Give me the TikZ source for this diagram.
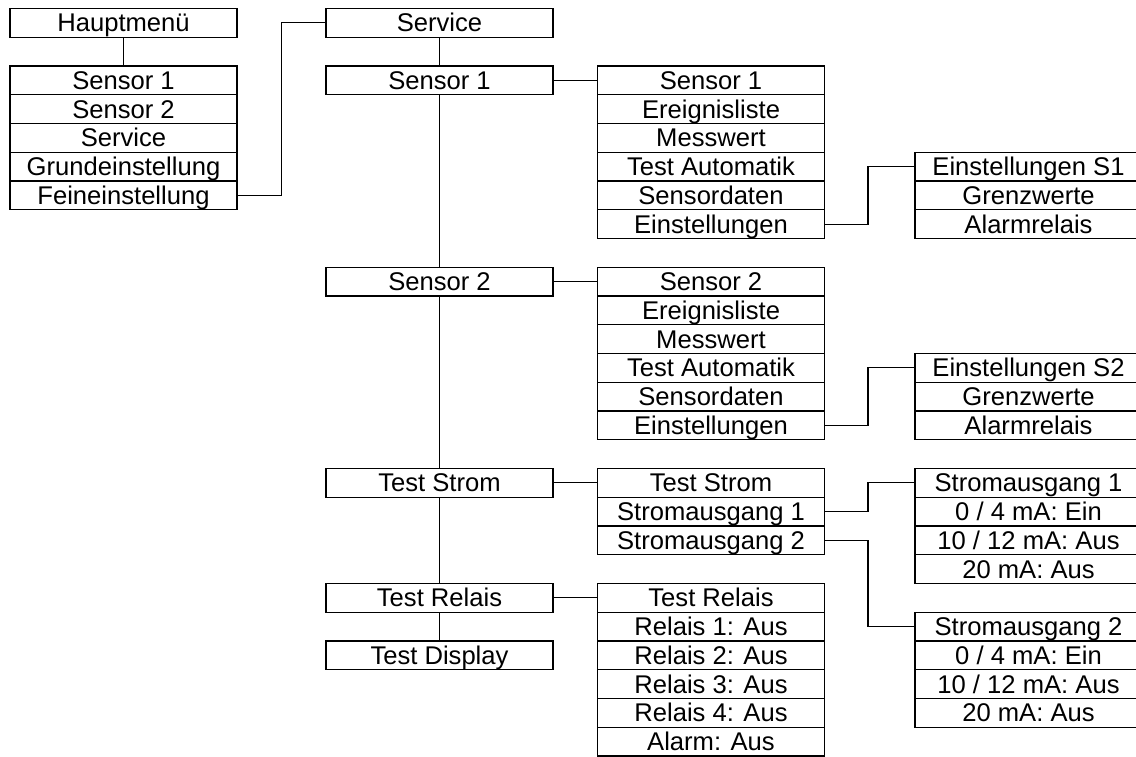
\documentclass[tikz,border=0pt]{standalone}
\usepackage{fontspec}
\setmainfont{Liberation Sans}
\begin{document}
\begin{tikzpicture}[x=0.5pt,y=-0.5pt,
  cell/.style={draw=black,line width=0.6pt,rectangle,minimum width=113.5pt,minimum height=14.375pt,inner sep=0pt,outer sep=0pt,text height=9pt,text depth=0pt,font=\fontsize{12.8}{14}\selectfont,text=black},
  link/.style={draw=black,line width=0.6pt}]
\useasboundingbox (0,0) rectangle (1136,756);
\clip (0,0) rectangle (1136,756);
% column 1
\node[cell] (haupt) at (123.5,22.875) {Hauptmenü};
\node[cell] (m1) at (123.5,80.375) {Sensor 1};
\node[cell] (m2) at (123.5,109.125) {Sensor 2};
\node[cell] (m3) at (123.5,137.875) {Service};
\node[cell] (m4) at (123.5,166.625) {Grundeinstellung};
\node[cell] (m5) at (123.5,195.375) {Feineinstellung};
% column 2
\node[cell] (svc) at (439.5,22.875) {Service};
\node[cell] (cs1) at (439.5,80.375) {Sensor 1};
\node[cell] (cs2) at (439.5,281.625) {Sensor 2};
\node[cell] (cts) at (439.5,482.875) {Test Strom};
\node[cell] (ctr) at (439.5,597.875) {Test Relais};
\node[cell] (ctd) at (439.5,655.375) {Test Display};
% column 3: Sensor 1
\node[cell] (a1) at (711,80.375) {Sensor 1};
\node[cell] (a2) at (711,109.125) {Ereignisliste};
\node[cell] (a3) at (711,137.875) {Messwert};
\node[cell] (a4) at (711,166.625) {Test Automatik};
\node[cell] (a5) at (711,195.375) {Sensordaten};
\node[cell] (a6) at (711,224.125) {Einstellungen};
% column 3: Sensor 2
\node[cell] (b1) at (711,281.625) {Sensor 2};
\node[cell] (b2) at (711,310.375) {Ereignisliste};
\node[cell] (b3) at (711,339.125) {Messwert};
\node[cell] (b4) at (711,367.875) {Test Automatik};
\node[cell] (b5) at (711,396.625) {Sensordaten};
\node[cell] (b6) at (711,425.375) {Einstellungen};
% column 3: Test Strom
\node[cell] (c1) at (711,482.875) {Test Strom};
\node[cell] (c2) at (711,511.625) {Stromausgang 1};
\node[cell] (c3) at (711,540.375) {Stromausgang 2};
% column 3: Test Relais
\node[cell] (d1) at (711,597.875) {Test Relais};
\node[cell] (d2) at (711,626.625) {Relais 1: Aus};
\node[cell] (d3) at (711,655.375) {Relais 2: Aus};
\node[cell] (d4) at (711,684.125) {Relais 3: Aus};
\node[cell] (d5) at (711,712.875) {Relais 4: Aus};
\node[cell] (d6) at (711,741.625) {Alarm: Aus};
% column 4
\node[cell] (e1) at (1028.5,166.625) {Einstellungen S1};
\node[cell] (e2) at (1028.5,195.375) {Grenzwerte};
\node[cell] (e3) at (1028.5,224.125) {Alarmrelais};
\node[cell] (f1) at (1028.5,367.875) {Einstellungen S2};
\node[cell] (f2) at (1028.5,396.625) {Grenzwerte};
\node[cell] (f3) at (1028.5,425.375) {Alarmrelais};
\node[cell] (g1) at (1028.5,482.875) {Stromausgang 1};
\node[cell] (g2) at (1028.5,511.625) {0 / 4 mA: Ein};
\node[cell] (g3) at (1028.5,540.375) {10 / 12 mA: Aus};
\node[cell] (g4) at (1028.5,569.125) {20 mA: Aus};
\node[cell] (h1) at (1028.5,626.625) {Stromausgang 2};
\node[cell] (h2) at (1028.5,655.375) {0 / 4 mA: Ein};
\node[cell] (h3) at (1028.5,684.125) {10 / 12 mA: Aus};
\node[cell] (h4) at (1028.5,712.875) {20 mA: Aus};
% connectors
\draw[link] (haupt.south) -- (m1.north);
\draw[link] (m5.east) -- ++(44.5,0) |- (svc.west);
\draw[link] (svc.south) -- (cs1.north);
\draw[link] (cs1.south) -- (cs2.north);
\draw[link] (cs2.south) -- (cts.north);
\draw[link] (cts.south) -- (ctr.north);
\draw[link] (ctr.south) -- (ctd.north);
\draw[link] (cs1.east) -- (a1.west);
\draw[link] (cs2.east) -- (b1.west);
\draw[link] (cts.east) -- (c1.west);
\draw[link] (ctr.east) -- (d1.west);
\draw[link] (a6.east) -- ++(43.5,0) |- (e1.west);
\draw[link] (b6.east) -- ++(43.5,0) |- (f1.west);
\draw[link] (c2.east) -- ++(43.5,0) |- (g1.west);
\draw[link] (c3.east) -- ++(43.5,0) |- (h1.west);
\end{tikzpicture}
\end{document}
